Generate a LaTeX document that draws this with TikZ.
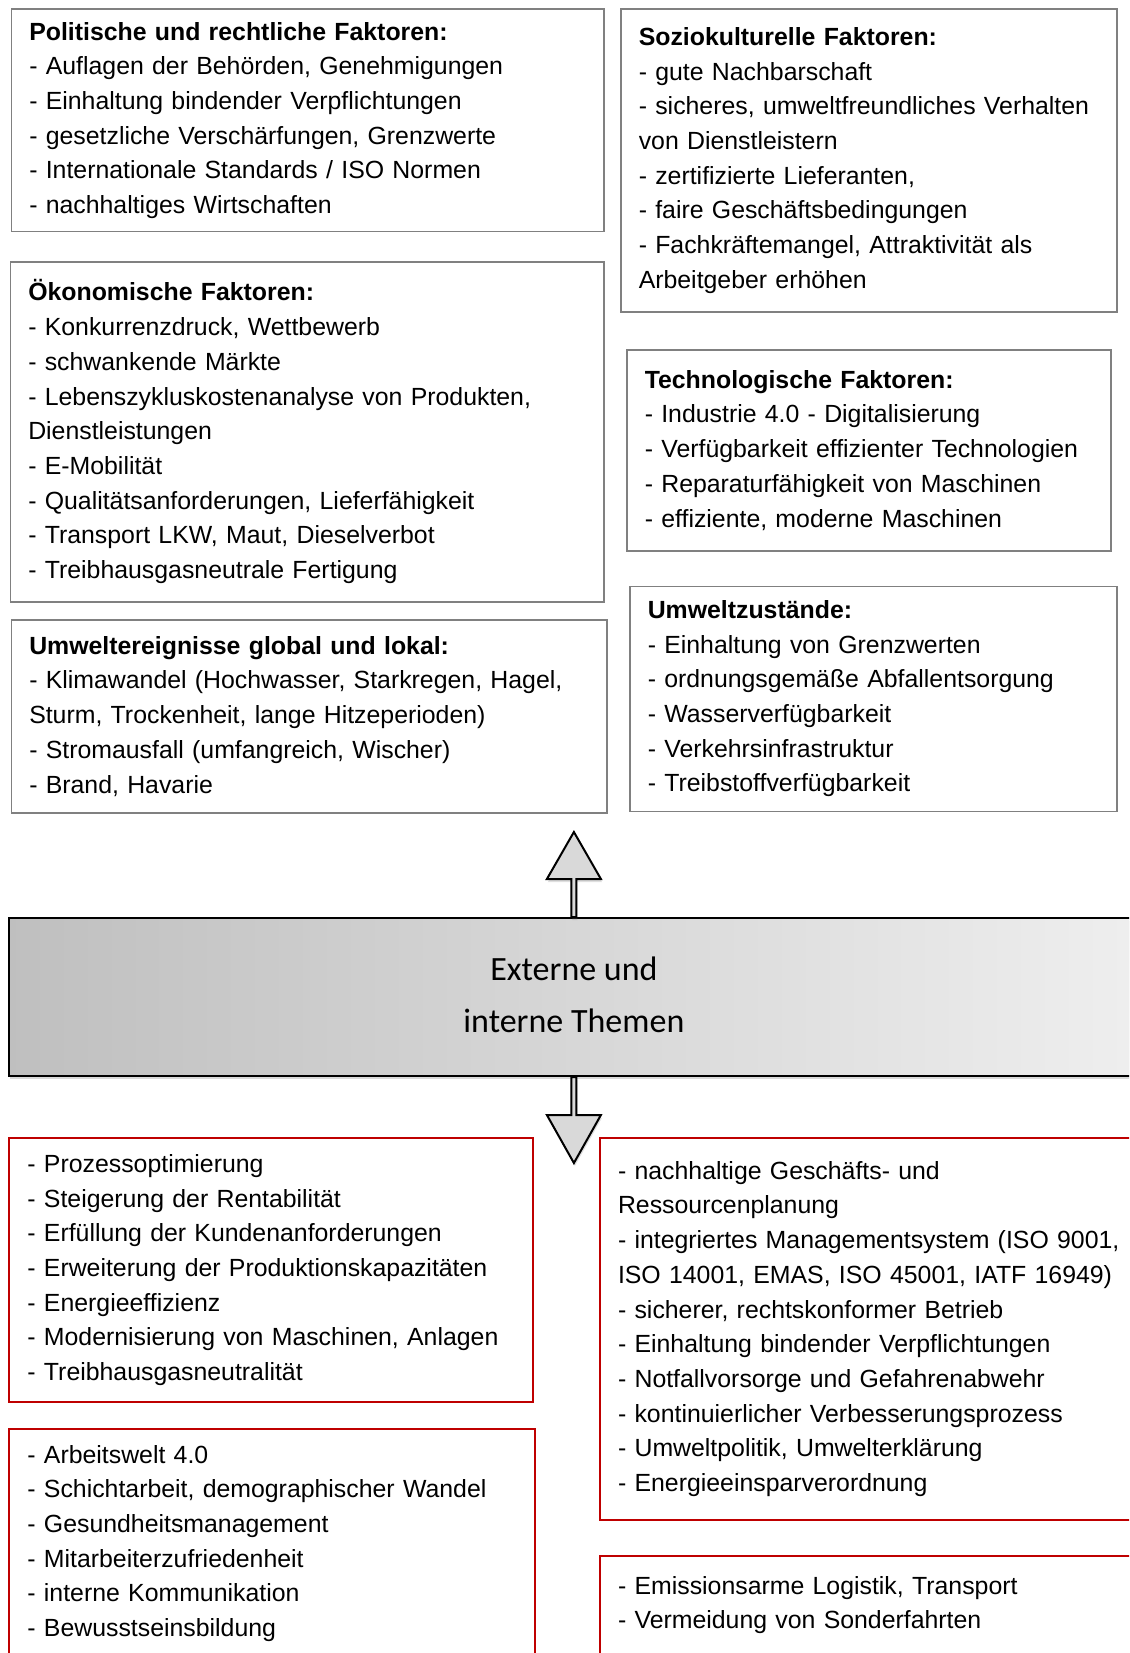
\documentclass[tikz,border=0pt]{standalone}
\usepackage{fontspec}
\setmainfont{Liberation Sans}
\newfontfamily\themafont{Carlito}
\usetikzlibrary{positioning,calc,shadows}

\begin{document}
\begin{tikzpicture}[x=1pt,y=-1pt,
              faktor/.style={draw=gray,line width=1.5pt,anchor=north west,align=left,
                inner xsep=18pt,inner ysep=0pt,font=\fontsize{24.85}{34.7}\selectfont},
              aufgabe/.style={faktor,draw=red!75!black,line width=2pt},
              pfeil/.style={draw=black,line width=2pt,fill=gray!30,line join=miter,
                drop shadow={opacity=0.25,shadow xshift=1pt,shadow yshift=-3pt}}]
  \useasboundingbox (0,0) rectangle (1129,1653);
  \clip (0,0) rectangle (1129,1653);

  \node[faktor,text width=556.5pt,minimum height=222.6pt] (politik) at (10.5,8.4)
    {\textbf{Politische und rechtliche Faktoren:}\\
     - Auflagen der Behörden, Genehmigungen\\
     - Einhaltung bindender Verpflichtungen\\
     - gesetzliche Verschärfungen, Grenzwerte\\
     - Internationale Standards / ISO Normen\\
     - nachhaltiges Wirtschaften};
  \node[faktor,text width=460pt,minimum height=302.6pt] (sozio) at (620,8.4)
    {\textbf{Soziokulturelle Faktoren:}\\
     - gute Nachbarschaft\\
     - sicheres, umweltfreundliches Verhalten\\
     von Dienstleistern\\
     - zertifizierte Lieferanten,\\
     - faire Geschäftsbedingungen\\
     - Fachkräftemangel, Attraktivität als\\
     Arbeitgeber erhöhen};
  \node[faktor,text width=557.5pt,minimum height=340pt] (oekonomie) at (9.5,261)
    {\textbf{Ökonomische Faktoren:}\\
     - Konkurrenzdruck, Wettbewerb\\
     - schwankende Märkte\\
     - Lebenszykluskostenanalyse von Produkten,\\
     Dienstleistungen\\
     - E-Mobilität\\
     - Qualitätsanforderungen, Lieferfähigkeit\\
     - Transport LKW, Maut, Dieselverbot\\
     - Treibhausgasneutrale Fertigung};
  \node[faktor,text width=448pt,minimum height=201pt] (technik) at (626,349)
    {\textbf{Technologische Faktoren:}\\
     - Industrie 4.0 - Digitalisierung\\
     - Verfügbarkeit effizienter Technologien\\
     - Reparaturfähigkeit von Maschinen\\
     - effiziente, moderne Maschinen};
  \node[faktor,text width=559.5pt,minimum height=193pt] (ereignis) at (10.5,619)
    {\textbf{Umweltereignisse global und lokal:}\\
     - Klimawandel (Hochwasser, Starkregen, Hagel,\\
     Sturm, Trockenheit, lange Hitzeperioden)\\
     - Stromausfall (umfangreich, Wischer)\\
     - Brand, Havarie};
  \node[faktor,text width=451pt,minimum height=225pt] (zustand) at (629,585.5)
    {\textbf{Umweltzustände:}\\
     - Einhaltung von Grenzwerten\\
     - ordnungsgemäße Abfallentsorgung\\
     - Wasserverfügbarkeit\\
     - Verkehrsinfrastruktur\\
     - Treibstoffverfügbarkeit};

  \node[draw,line width=2pt,left color=gray!50,right color=gray!13,
        drop shadow={opacity=0.3,shadow xshift=1pt,shadow yshift=-3pt},
        anchor=north west,minimum width=1129pt,minimum height=158pt,align=center,
        font=\themafont\fontsize{34}{51.5}\selectfont] (thema) at (8.4,917)
    {Externe und\\interne Themen\rule[-5pt]{0pt}{0pt}};

  \draw[pfeil] ($(thema.north)+(-2.5,0)$) -- ++(0,-38) -- ++(-24.5,0)
    -- ($(thema.north)+(0,-85)$) -- ($(thema.north)+(27,-38)$) -- ++(-24.5,0)
    -- ($(thema.north)+(2.5,0)$) -- cycle;
  \draw[pfeil] ($(thema.south)+(-2.5,0)$) -- ++(0,38) -- ++(-24.5,0)
    -- ($(thema.south)+(0,86)$) -- ($(thema.south)+(27,38)$) -- ++(-24.5,0)
    -- ($(thema.south)+(2.5,0)$) -- cycle;

  \node[aufgabe,text width=487.6pt,minimum height=264pt] (prozess) at (8.4,1137)
    {- Prozessoptimierung\\
     - Steigerung der Rentabilität\\
     - Erfüllung der Kundenanforderungen\\
     - Erweiterung der Produktionskapazitäten\\
     - Energieeffizienz\\
     - Modernisierung von Maschinen, Anlagen\\
     - Treibhausgasneutralität};
  \node[aufgabe,text width=540pt,minimum height=382pt] (management) at (599,1137)
    {- nachhaltige Geschäfts- und\\
     Ressourcenplanung\\
     - integriertes Managementsystem (ISO 9001,\\
     ISO 14001, EMAS, ISO 45001, IATF 16949)\\
     - sicherer, rechtskonformer Betrieb\\
     - Einhaltung bindender Verpflichtungen\\
     - Notfallvorsorge und Gefahrenabwehr\\
     - kontinuierlicher Verbesserungsprozess\\
     - Umweltpolitik, Umwelterklärung\\
     - Energieeinsparverordnung};
  \node[aufgabe,text width=490pt,minimum height=229pt] (personal) at (8.4,1428)
    {- Arbeitswelt 4.0\\
     - Schichtarbeit, demographischer Wandel\\
     - Gesundheitsmanagement\\
     - Mitarbeiterzufriedenheit\\
     - interne Kommunikation\\
     - Bewusstseinsbildung};
  \node[aufgabe,text width=540pt,minimum height=98pt] (logistik) at (599,1555)
    {- Emissionsarme Logistik, Transport\\
     - Vermeidung von Sonderfahrten};
\end{tikzpicture}
\end{document}
